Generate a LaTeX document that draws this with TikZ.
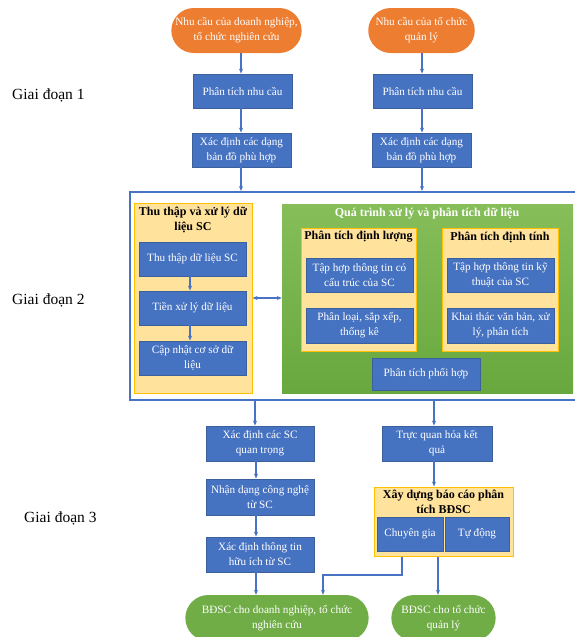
\documentclass[tikz,border=0pt]{standalone}
\usepackage{fontspec}
\setmainfont{Liberation Serif}
\usetikzlibrary{arrows.meta,positioning,calc,shapes.misc}
\definecolor{boxblue}{RGB}{70,114,194}
\definecolor{boxedge}{RGB}{60,96,156}
\definecolor{frameblue}{RGB}{72,114,196}
\definecolor{startorange}{RGB}{237,125,49}
\definecolor{endgreen}{RGB}{112,173,71}
\definecolor{greenhi}{RGB}{134,190,90}
\definecolor{greenlo}{RGB}{104,168,62}
\definecolor{panelfill}{RGB}{255,226,156}
\definecolor{paneledge}{RGB}{255,192,0}
\tikzset{
  % blue process boxes
  stepbox/.style={rectangle, fill=boxblue, draw=boxedge, line width=0.8pt,
    text=white, align=center, font=\fontsize{11.2}{15}\selectfont,
    inner sep=1pt, minimum height=34pt},
  % rounded start / end terminals
  startnode/.style={rounded rectangle, fill=startorange, draw=none,
    text=white, align=center, font=\fontsize{11.2}{15}\selectfont, minimum height=45pt},
  endnode/.style={rounded rectangle, fill=endgreen, draw=none,
    text=white, align=center, font=\fontsize{11.2}{15}\selectfont, minimum height=46pt},
  % yellow group panels
  panel/.style={rectangle, fill=panelfill, draw=paneledge, line width=1pt, inner sep=0pt},
  paneltitle/.style={font=\bfseries\fontsize{12}{15}\selectfont, align=center, inner sep=0pt},
  % phase labels on the left
  phase/.style={font=\fontsize{15.5}{18}\selectfont, anchor=west, inner sep=0pt},
  % connectors
  link/.style={-{Stealth[length=5pt,width=4pt]}, line width=1.1pt, frameblue},
}
\begin{document}
\begin{tikzpicture}[x=1pt, y=-1pt]
  \useasboundingbox (0,0) rectangle (575,637);
  % phase labels
  \node[phase] (ph1) at (12,95) {Giai đoạn 1};
  \node[phase] (ph2) at (12,300) {Giai đoạn 2};
  \node[phase] (ph3) at (24,518) {Giai đoạn 3};
  % stage 1: two columns
  \node[startnode, minimum width=137pt] (need1) at (236.5,30.5) {Nhu cầu của doanh nghiệp,\\ tổ chức nghiên cứu};
  \node[startnode, minimum width=101pt] (need2) at (421.5,30.5) {Nhu cầu của tổ chức\\ quản lý};
  \node[stepbox, minimum width=99pt] (need1an) at (242.5,91) {Phân tích nhu cầu};
  \node[stepbox, minimum width=99pt] (need2an) at (422.5,91) {Phân tích nhu cầu};
  \node[stepbox, minimum width=99pt] (map1) at (241.5,150) {Xác định các dạng\\ bản đồ phù hợp};
  \node[stepbox, minimum width=99pt] (map2) at (421.5,150) {Xác định các dạng\\ bản đồ phù hợp};
  % stage 2: big frame
  \node[rectangle, draw=frameblue, line width=2pt, fill=white, minimum width=452pt,
    minimum height=208pt, inner sep=0pt] (frame) at (356,296) {};
  % left panel: collection
  \node[panel, minimum width=118pt, minimum height=190pt] (collect) at (193,298) {};
  \node[paneltitle] (collectT) at (193,220) {Thu thập và xử lý dữ\\ liệu SC};
  \node[stepbox, minimum width=107pt] (gather) at (192.5,259) {Thu thập dữ liệu SC};
  \node[stepbox, minimum width=107pt] (prep) at (192.5,308) {Tiền xử lý dữ liệu};
  \node[stepbox, minimum width=107pt] (update) at (192.5,358) {Cập nhật cơ sở dữ\\ liệu};
  % right panel: analysis
  \node[rectangle, top color=greenhi, bottom color=greenlo, minimum width=291pt,
    minimum height=189pt, inner sep=0pt] (analysis) at (427.5,298.5) {};
  \node[paneltitle, text=white] (analysisT) at (427,214) {Quá trình xử lý và phân tích dữ liệu};
  \node[panel, minimum width=115pt, minimum height=123pt] (quant) at (358.5,289.5) {};
  \node[paneltitle] (quantT) at (358.5,237) {Phân tích định lượng};
  \node[stepbox, minimum width=107pt] (quantA) at (359.5,275) {Tập hợp thông tin có\\ cấu trúc của SC};
  \node[stepbox, minimum width=107pt, minimum height=35pt] (quantB) at (359.5,325.5) {Phân loại, sắp xếp,\\ thống kê};
  \node[panel, minimum width=116pt, minimum height=123pt] (qual) at (500,289.5) {};
  \node[paneltitle] (qualT) at (500,237) {Phân tích định tính};
  \node[stepbox, minimum width=107pt] (qualA) at (500.5,275) {Tập hợp thông tin kỹ\\ thuật của SC};
  \node[stepbox, minimum width=107pt, minimum height=35pt] (qualB) at (500.5,325.5) {Khai thác văn bản, xử\\ lý, phân tích};
  \node[stepbox, minimum width=108pt, minimum height=32pt] (combined) at (426,374) {Phân tích phối hợp};
  % stage 3
  \node[stepbox, minimum width=108pt, minimum height=35pt] (keysc) at (260,443.5) {Xác định các SC\\ quan trọng};
  \node[stepbox, minimum width=108pt, minimum height=36pt] (tech) at (260,497) {Nhận dạng công nghệ\\ từ SC};
  \node[stepbox, minimum width=108pt, minimum height=35pt] (useful) at (260,554.5) {Xác định thông tin\\ hữu ích từ SC};
  \node[stepbox, minimum width=110pt, minimum height=35pt] (visual) at (437,443.5) {Trực quan hóa kết\\ quả};
  \node[panel, minimum width=139pt, minimum height=69pt] (report) at (443.5,521.5) {};
  \node[paneltitle] (reportT) at (443.5,502) {Xây dựng báo cáo phân\\ tích BĐSC};
  \node[stepbox, minimum width=66pt] (expert) at (410,534) {Chuyên gia};
  \node[stepbox, minimum width=64pt] (auto) at (477,534) {Tự động};
  \node[endnode, minimum width=190pt] (out1) at (277,618) {BĐSC cho doanh nghiệp, tổ chức\\ nghiên cứu};
  \node[endnode, minimum width=111pt] (out2) at (443.5,618) {BĐSC cho tổ chức\\ quản lý};
  % connectors, stage 1
  \draw[link] (need1.south -| 241,0) -- (241,0 |- need1an.north);
  \draw[link] (need2.south -| 422,0) -- (422,0 |- need2an.north);
  \draw[link] (need1an.south -| 241,0) -- (241,0 |- map1.north);
  \draw[link] (need2an.south -| 422,0) -- (422,0 |- map2.north);
  \draw[link] (map1.south -| 241,0) -- (241,0 |- frame.north);
  \draw[link] (map2.south -| 422,0) -- (422,0 |- frame.north);
  % connectors, stage 2
  \draw[link] (gather.south -| 190,0) -- (190,0 |- prep.north);
  \draw[link] (prep.south -| 190,0) -- (190,0 |- update.north);
  \draw[{Stealth[length=5pt,width=4pt]}-{Stealth[length=5pt,width=4pt]}, line width=1.1pt, frameblue]
    (collect.east) -- (collect.east -| analysis.west);
  % connectors, stage 3
  \draw[link] (frame.south -| 255,0) -- (255,0 |- keysc.north);
  \draw[link] (frame.south -| 434,0) -- (434,0 |- visual.north);
  \draw[link] (keysc.south -| 256,0) -- (256,0 |- tech.north);
  \draw[link] (tech.south -| 256,0) -- (256,0 |- useful.north);
  \draw[link] (useful.south -| 256,0) -- (256,0 |- out1.north);
  \draw[link] (visual.south -| 434,0) -- (434,0 |- report.north);
  \draw[link] (report.south -| 402,0) |- (323,575) -- (323,0 |- out1.north);
  \draw[link] (report.south -| 438,0) -- (438,0 |- out2.north);
\end{tikzpicture}
\end{document}
